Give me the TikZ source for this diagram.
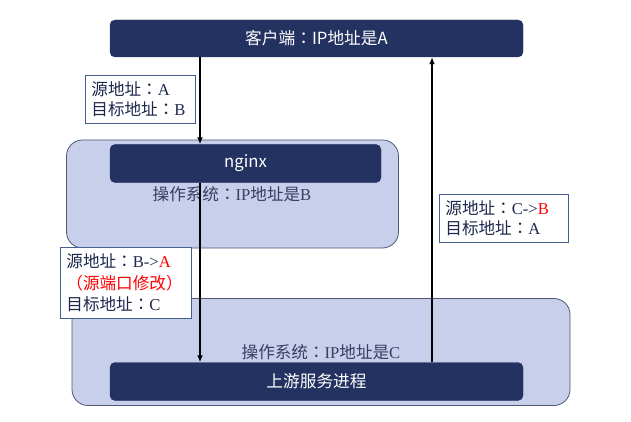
\documentclass[tikz,border=0pt]{standalone}
\usepackage{fontspec}
\setmainfont{Liberation Serif}
\newfontfamily\cjk{Noto Sans CJK SC}
\newfontfamily\cjkt{Noto Sans CJK TC}
\usetikzlibrary{arrows.meta}
\definecolor{navy}{RGB}{35,50,96}
\definecolor{lav}{RGB}{199,207,235}
\definecolor{osedge}{RGB}{80,88,120}
\definecolor{ostext}{RGB}{55,62,98}
\definecolor{lbltext}{RGB}{30,40,78}
\definecolor{lbledge}{RGB}{70,95,145}
\newcommand\zh[1]{{\cjk #1}}
\newcommand\cln{{\cjkt ：}}
\begin{document}
\begin{tikzpicture}[x=1pt,y=-1pt,
  darkbox/.style={fill=navy,draw=navy,rounded corners=5pt,text=white,font=\cjk\fontsize{16.7}{20}\selectfont,inner sep=0pt},
  osbox/.style={fill=lav,draw=osedge,line width=0.8pt,rounded corners=16pt,inner sep=0pt},
  ostxt/.style={text=ostext,font=\fontsize{16.6}{20}\selectfont,inner sep=0pt},
  lblbox/.style={draw=lbledge,line width=0.8pt,fill=white,text=lbltext,align=left,inner xsep=6pt,inner ysep=2pt,font=\fontsize{16.6}{20}\selectfont,anchor=north west},
  arr/.style={line width=1.7pt,-{Latex[length=7pt,width=6pt]}}]
\useasboundingbox (0,0) rectangle (631,422);
% OS boxes
\node[osbox,minimum width=332,minimum height=108] (osB) at (232.5,194) {};
\node[osbox,minimum width=498,minimum height=107] (osC) at (321,352) {};
% dark boxes
\node[darkbox,minimum width=413,minimum height=37] (client) at (316.5,38.5) {客户端{\cjkt ：}IP地址是A};
\node[darkbox,minimum width=271,minimum height=38] (nginx) at (245.5,163.5) {nginx};
\node[darkbox,minimum width=413,minimum height=38] (up) at (316.5,381.5) {上游服务进程};
% OS labels
\node[ostxt] (tB) at (232,194) {\zh{操作系统}\cln IP\zh{地址是}B};
\node[ostxt] (tC) at (321,352) {\zh{操作系统}\cln IP\zh{地址是}C};
% arrows
\coordinate (xd) at (200,0);
\coordinate (xu) at (432,0);
\draw[arr] (xd |- client.south) -- (xd |- nginx.north);
\draw[arr] (xd |- nginx.south) -- (xd |- up.north);
\draw[arr] (xu |- up.north) -- (xu |- client.south);
% address labels
\node[lblbox,text width=98pt,minimum height=48] (l1) at (85,75) {\zh{源地址}\cln A\\\zh{目标地址}\cln B};
\node[lblbox,text width=117pt,minimum height=48] (l2) at (439,194) {\zh{源地址}\cln C->\textcolor{red}{B}\\\zh{目标地址}\cln A};
\node[lblbox,text width=119pt,minimum height=71,font=\fontsize{16.6}{21.5}\selectfont] (l3) at (60,247) {\zh{源地址}\cln B->\textcolor{red}{A}\\\textcolor{red}{{\cjkt （}\zh{源端口修改}{\cjkt ）}}\\\zh{目标地址}\cln C};
\end{tikzpicture}
\end{document}
